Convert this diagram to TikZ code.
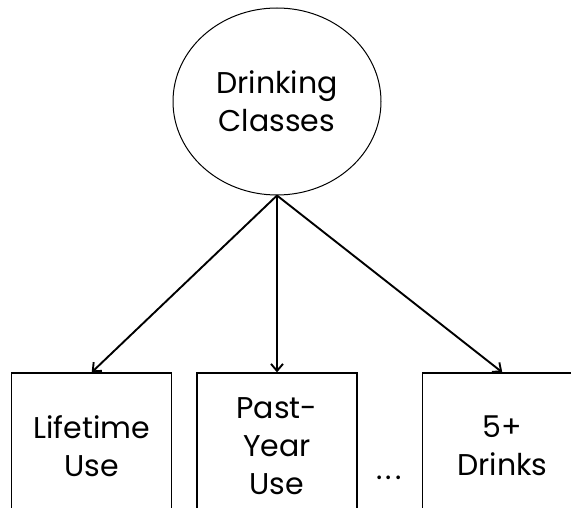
\documentclass[tikz,border=0pt]{standalone}
\usepackage{fontspec}
\setmainfont{Poppins}
\usetikzlibrary{positioning, shapes.geometric, arrows.meta}

\tikzset{
    latent/.style = {ellipse, draw, line width=1pt, minimum width=208pt, minimum height=187pt, inner sep=0pt, align=center},
    indicator/.style = {rectangle, draw, line width=1.3pt, minimum width=160pt, minimum height=146pt, inner sep=0pt, align=center},
    load/.style = {-{Straight Barb[length=7pt,width=12pt]}, line width=1.9pt}
}

\begin{document}
\begin{tikzpicture}[x=1pt, y=-1pt, font=\fontsize{30}{38}\selectfont]

\clip (0,0) rectangle (571,508);

\node[latent] (classes) at (277, 101.5) {Drinking\\Classes};

\node[indicator] (past) at (277, 446) {Past-\\Year\\Use};
\node[indicator, left = 24pt of past] (life) {Lifetime\\Use};
\node[indicator, right = 64pt of past] (drinks) {5+\\Drinks};

    \node (dots) at (389, 478) {.\kern3pt.\kern3pt.};

    \draw [load] (classes.south) -- (life.north);
    \draw [load] (classes.south) -- (past.north);
    \draw [load] (classes.south) -- (drinks.north);

\end{tikzpicture}
\end{document}
